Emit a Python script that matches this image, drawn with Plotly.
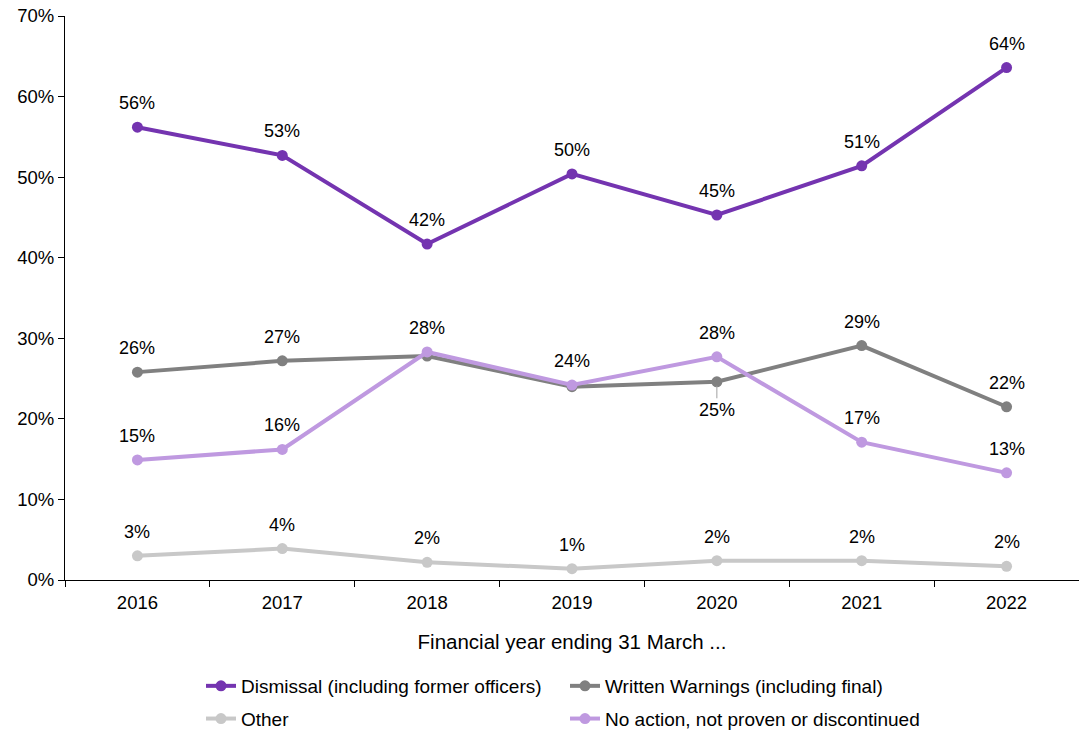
import plotly.graph_objects as go

years = ["2016", "2017", "2018", "2019", "2020", "2021", "2022"]

dismissal = [56.2, 52.7, 41.7, 50.4, 45.3, 51.4, 63.6]
written_warnings = [25.8, 27.2, 27.8, 24.0, 24.6, 29.1, 21.5]
other = [3.0, 3.9, 2.2, 1.4, 2.4, 2.4, 1.7]
no_action = [14.9, 16.2, 28.3, 24.2, 27.7, 17.1, 13.3]

# label placement per point: "above", "below" or None (no label)
series = [
    ("Dismissal (including former officers)", dismissal, "#7434B0", "legend",
     ["above"] * 7),
    ("Written Warnings (including final)", written_warnings, "#808080", "legend2",
     ["above", "above", None, None, "below", "above", "above"]),
    ("Other", other, "#C8C8C8", "legend",
     ["above"] * 7),
    ("No action, not proven or discontinued", no_action, "#BF99E0", "legend2",
     ["above"] * 7),
]

FONT = "Liberation Sans, Arial, sans-serif"
LABEL_FONT = dict(size=18, color="#000000", family=FONT)

fig = go.Figure()
annotations = []
for name, vals, color, leg, places in series:
    fig.add_trace(go.Scatter(
        x=years, y=vals, name=name, mode="lines+markers",
        line=dict(color=color, width=4),
        marker=dict(color=color, size=11),
        legend=leg, legendgroup=name,
    ))
    for i, (v, p) in enumerate(zip(vals, places)):
        if p is None:
            continue
        txt = f"{round(v):.0f}%"
        if p == "above":
            annotations.append(dict(
                x=i, y=v, xref="x", yref="y", text=txt, showarrow=False,
                yshift=24, font=LABEL_FONT,
            ))
        else:
            annotations.append(dict(
                x=i, y=v, xref="x", yref="y", text=txt, showarrow=True,
                arrowhead=0, arrowwidth=1, arrowcolor="#A0A0A0",
                ax=0, ay=28, standoff=4, font=LABEL_FONT,
            ))

plot_w = 1079 - 65
legend_style = dict(
    yref="container", y=1 - 667 / 730, yanchor="top", xanchor="left",
    font=dict(size=19, family=FONT, color="#000000"),
    tracegroupgap=5, traceorder="grouped",
    bgcolor="rgba(0,0,0,0)",
)

fig.update_layout(
    width=1079, height=730,
    margin=dict(l=65, r=0, t=16, b=150),
    paper_bgcolor="white", plot_bgcolor="white",
    font=dict(family=FONT, size=18, color="#000000"),
    annotations=annotations,
    showlegend=True,
    legend=dict(x=(201 - 65) / plot_w, **legend_style),
    legend2=dict(x=(565 - 65) / plot_w, **legend_style),
)

fig.update_xaxes(
    type="category", range=[-0.5, 6.5],
    showline=True, linecolor="#000000", linewidth=1,
    ticks="outside", ticklen=6, tickcolor="#000000",
    tickson="boundaries", showgrid=False,
    tickfont=dict(size=18.5, family=FONT),
    ticklabelstandoff=6,
    title=dict(text="Financial year ending 31 March ...",
               font=dict(size=20.5, family=FONT), standoff=22),
)
fig.update_yaxes(
    range=[0, 70], dtick=10, ticksuffix="%",
    showline=True, linecolor="#000000", linewidth=1,
    ticks="outside", ticklen=6, tickcolor="#000000",
    showgrid=False, zeroline=False,
    tickfont=dict(size=18.5, family=FONT),
)

fig.write_html("out.html")
